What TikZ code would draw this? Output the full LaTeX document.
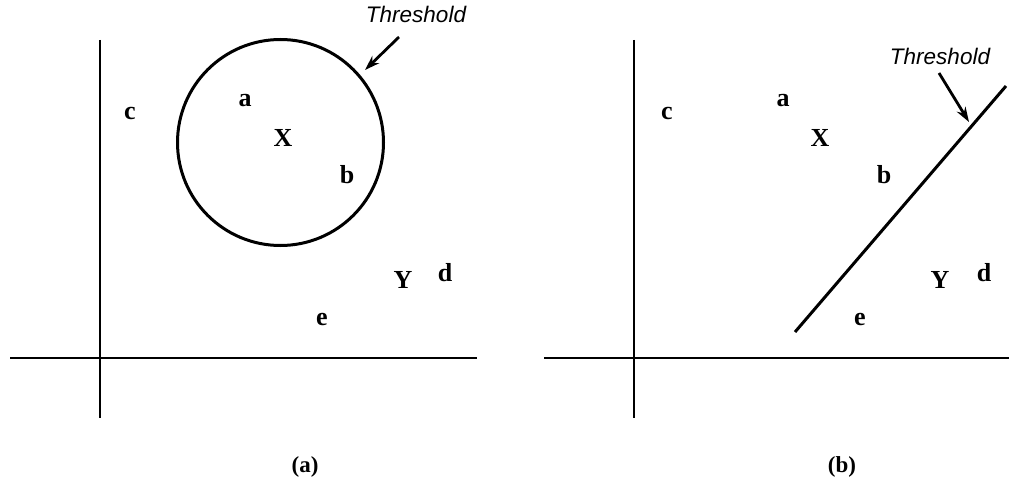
\documentclass[tikz,border=0pt]{standalone}
\usepackage{fontspec}
\setmainfont{Liberation Serif}
\newfontfamily\thrfont{Liberation Sans}
\usetikzlibrary{arrows.meta}
\tikzset{
  ax/.style={line width=2.6pt},
  thr/.style={line width=3pt},
  ptlab/.style={font=\fontsize{26}{28}\selectfont\bfseries, inner sep=0pt},
  thrlab/.style={font=\thrfont\fontsize{22.5}{26}\selectfont\itshape, inner sep=0pt},
  sublab/.style={font=\fontsize{23}{26}\selectfont\bfseries, inner sep=0pt},
  arr/.style={line width=2.8pt, -{Stealth[length=15pt,width=10pt]}}
}
\begin{document}
\begin{tikzpicture}[x=1pt,y=-1pt]
\useasboundingbox (0,0) rectangle (1009,487);
% panel (a)
\coordinate (aT) at (100,40); \coordinate (aB) at (100,418);
\coordinate (aL) at (10,358); \coordinate (aR) at (477,358);
\draw[ax] (aT) -- (aB);
\draw[ax] (aL) -- (aR);
\node[circle, draw, thr, minimum size=206pt, inner sep=0pt] (circ) at (280.5,142.5) {};
\node[thrlab] (thA) at (416,14) {Threshold};
\coordinate (aS) at (399,37);
\coordinate (aE) at (365,70);
\draw[arr] (aS) -- (aE);
\node[ptlab] (ac) at (130,113) {c};
\node[ptlab] (aa) at (245,101) {a};
\node[ptlab] (aX) at (283,138) {X};
\node[ptlab] (ab) at (347,175) {b};
\node[ptlab] (ad) at (445,273) {d};
\node[ptlab] (aY) at (403,280) {Y};
\node[ptlab] (ae) at (322,320) {e};
\node[sublab] (capa) at (305,467) {(a)};
% panel (b)
\coordinate (bT) at (634,40); \coordinate (bB) at (634,418);
\coordinate (bL) at (544,358); \coordinate (bR) at (1009,358);
\draw[ax] (bT) -- (bB);
\draw[ax] (bL) -- (bR);
\coordinate (l1) at (795,332); \coordinate (l2) at (1006,86);
\draw[thr] (l1) -- (l2);
\node[thrlab] (thB) at (940,56) {Threshold};
\coordinate (bS) at (939,73);
\coordinate (bE) at (969,122);
\draw[arr] (bS) -- (bE);
\node[ptlab] (bc) at (667,113) {c};
\node[ptlab] (ba) at (783,101) {a};
\node[ptlab] (bX) at (820,138) {X};
\node[ptlab] (bb) at (884,175) {b};
\node[ptlab] (bd) at (984,273) {d};
\node[ptlab] (bY) at (940,280) {Y};
\node[ptlab] (be) at (860,320) {e};
\node[sublab] (capb) at (842,467) {(b)};
\end{tikzpicture}
\end{document}
